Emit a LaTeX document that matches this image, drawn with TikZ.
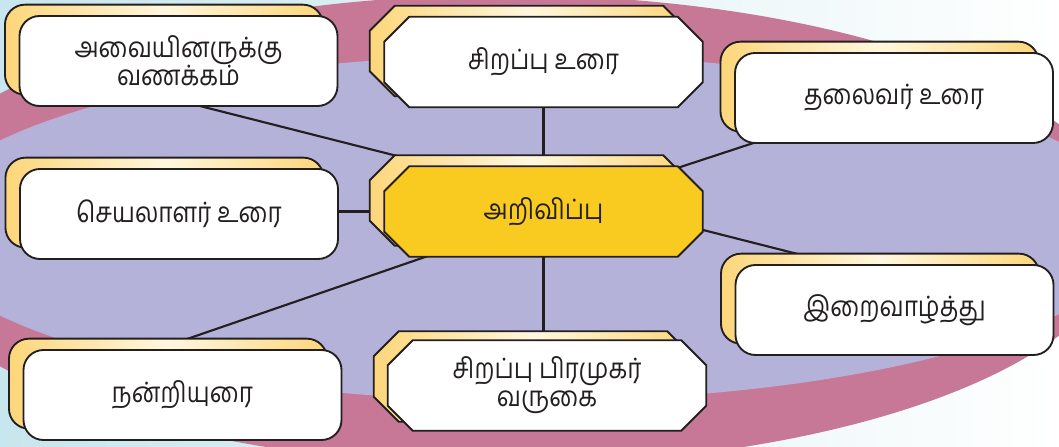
\documentclass[tikz,border=0pt]{standalone}
\usepackage{fontspec}
\newfontfamily\tamil[Script=Tamil,FakeStretch=0.87]{Hind Madurai}
\usetikzlibrary{shadows,calc}
\definecolor{ink}{RGB}{35,31,32}
\definecolor{bgc}{RGB}{200,230,237}
\definecolor{pinkc}{RGB}{199,120,150}
\definecolor{lav}{RGB}{180,178,216}
\definecolor{shy}{RGB}{253,214,122}
\definecolor{shw}{RGB}{255,247,222}
\definecolor{cyel}{RGB}{249,202,31}
\pgfdeclarelayer{back}
\pgfdeclarelayer{background}
\pgfdeclarelayer{shapes}
\pgfsetlayers{back,background,shapes,main}
% octagon path round node #1, shifted by (#2,#3) px
\newcommand\octo[3]{($(#1.north west)+(25+#2,#3)$) -- ($(#1.north east)+(-25+#2,#3)$) -- ($(#1.north east)+(#2,25+#3)$) -- ($(#1.south east)+(#2,-25+#3)$) -- ($(#1.south east)+(-25+#2,#3)$) -- ($(#1.south west)+(25+#2,#3)$) -- ($(#1.south west)+(#2,-25+#3)$) -- ($(#1.north west)+(#2,25+#3)$) -- cycle}
\begin{document}
\begin{tikzpicture}[x=0.75pt,y=-0.75pt,
  txt/.style={minimum width=238.5pt, minimum height=67.5pt, inner sep=0pt,
    align=center, text=ink, font=\tamil\fontsize{21}{21}\selectfont},
  shadowfill/.style={draw=ink, line width=1.4pt, left color=shy, right color=shy, middle color=shw},
  card/.style={txt, draw=ink, line width=1.4pt, fill=white, rounded corners=15pt,
    general shadow={shadow xshift=-10.9pt, shadow yshift=8.5pt, shadowfill}},
  octnode/.style={txt},
  octface/.style={draw=ink, line width=1.4pt, fill=white},
  conn/.style={draw=ink, line width=1.6pt}]
\useasboundingbox (0,0) rectangle (1059,446);
\begin{pgfonlayer}{back}
  \begin{scope}
    \clip (0,0) rectangle (1059,446);
    \shade[left color=bgc, right color=white] (0,0) rectangle (1059,446);
    \fill[pinkc] (505,230) ellipse [x radius=465pt, y radius=176.25pt];
    \fill[lav] (528,228) ellipse [x radius=459pt, y radius=129.75pt];
  \end{scope}
\end{pgfonlayer}

\node[card]    (b1) at (178.5,61) {அவையினருக்கு\\வணக்கம்};
\node[octnode] (b2) at (543.5,62) {சிறப்பு உரை};
\node[card]    (b3) at (894,98) {தலைவர் உரை};
\node[card]    (b4) at (179,214) {செயலாளர் உரை};
\node[octnode] (c)  at (543.5,211.5) {அறிவிப்பு};
\node[card]    (b5) at (894.5,310) {இறைவாழ்த்து};
\node[card]    (b6) at (182.5,395) {நன்றியுரை};
\node[octnode] (b7) at (547,385.5) {சிறப்பு பிரமுகர்\\வருகை};

\begin{pgfonlayer}{shapes}
  \draw[shadowfill] \octo{b2}{-14.5}{-11};
  \draw[octface] \octo{b2}{0}{0};
  \draw[shadowfill] \octo{c}{-14.5}{-11};
  \draw[octface, fill=cyel] \octo{c}{0}{0};
  \draw[shadowfill] \octo{b7}{-14}{-9};
  \draw[octface] \octo{b7}{0}{0};
\end{pgfonlayer}

\begin{pgfonlayer}{background}
  \draw[conn] ($(b1.center)+(-18,35)$) -- ($(c.center)+(-93,-42)$);
  \draw[conn] (b2.center) -- (c.center);
  \draw[conn] ($(c.center)+(106.5,-34.5)$) -- ($(b3.center)+(-104,33)$);
  \draw[conn] (c.center) -- (c.center -| b4.center);
  \draw[conn] ($(c.center)+(106.5,5)$) -- ($(b5.center)+(5.5,-30)$);
  \draw[conn] ($(c.center)+(-73.5,30)$) -- ($(b6.center)+(-82.5,-26)$);
  \draw[conn] (c.center) -- (c.center |- b7.center);
\end{pgfonlayer}
\end{tikzpicture}
\end{document}
